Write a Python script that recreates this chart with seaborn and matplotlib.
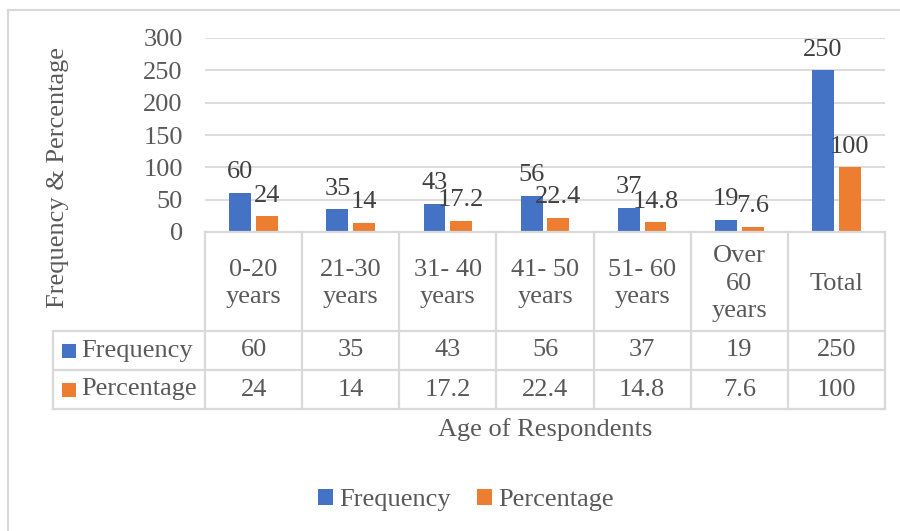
import numpy as np
import pandas as pd
import seaborn as sns
import matplotlib
matplotlib.use("Agg")
import matplotlib.pyplot as plt
from matplotlib.lines import Line2D
from matplotlib.patches import Rectangle, Patch
from matplotlib.transforms import blended_transform_factory

# ---- data ----
categories = ["0-20\nyears", "21-30\nyears", "31- 40\nyears", "41- 50\nyears",
              "51- 60\nyears", "Over\n60\nyears", "Total"]
frequency = [60, 35, 43, 56, 37, 19, 250]
percentage = [24, 14, 17.2, 22.4, 14.8, 7.6, 100]
series_names = ["Frequency", "Percentage"]
y_ticks = [0, 50, 100, 150, 200, 250, 300]

BLUE = "#4472C4"
ORANGE = "#ED7D31"
TEXT = "#595959"
LABEL = "#404040"
GRID = "#D9D9D9"
FS = 19

sns.set_theme(style="white")
plt.rcParams["font.family"] = ["Liberation Serif", "DejaVu Serif"]

W, H = 900, 531
fig = plt.figure(figsize=(W / 100, H / 100), dpi=100)


def fx(px):
    return px / W


def fy(py):
    return 1 - py / H


# plot area (pixels)
AX_L, AX_R, AX_T, AX_B = 205, 885, 38, 232
ax = fig.add_axes([fx(AX_L), fy(AX_B), fx(AX_R) - fx(AX_L), fy(AX_T) - fy(AX_B)])

df = pd.DataFrame({
    "Age": categories * 2,
    "Series": [series_names[0]] * len(categories) + [series_names[1]] * len(categories),
    "Value": frequency + percentage,
})

sns.barplot(data=df, x="Age", y="Value", hue="Series", order=categories,
            hue_order=series_names, palette=[BLUE, ORANGE], width=0.55, gap=0.18,
            saturation=1, errorbar=None, linewidth=0, legend=False, ax=ax)

ax.set_xlim(-0.5, len(categories) - 0.5)
ax.set_ylim(0, 300)
ax.set_yticks(y_ticks)
ax.set_yticklabels([str(t) for t in y_ticks], fontsize=FS, color=TEXT)
ax.tick_params(axis="y", length=0, pad=16)
ax.tick_params(axis="x", length=0, labelbottom=False)
ax.set_xlabel("")
ax.set_ylabel("")
for s in ax.spines.values():
    s.set_visible(False)
ax.yaxis.grid(True, color=GRID, linewidth=1.3)
ax.set_axisbelow(True)

# value labels above bars
for cont, vals in zip(ax.containers, [frequency, percentage]):
    ax.bar_label(cont, labels=[f"{v:g}" for v in vals], padding=7,
                 fontsize=FS, color=LABEL)

# ---- data table below the plot ----
blend = blended_transform_factory(ax.transData, fig.transFigure)
ROW_HDR_B, ROW_F_B, ROW_P_B = 331, 370, 409
LBL_L = 53
tbl_kw = dict(color=GRID, linewidth=1.6, solid_capstyle="projecting")

# vertical cell borders
for b in np.arange(-0.5, len(categories), 1.0):
    fig.add_artist(Line2D([b, b], [fy(AX_B), fy(ROW_P_B)], transform=blend, **tbl_kw))
fig.add_artist(Line2D([fx(LBL_L)] * 2, [fy(ROW_HDR_B), fy(ROW_P_B)],
                      transform=fig.transFigure, **tbl_kw))
# horizontal cell borders
fig.add_artist(Line2D([fx(AX_L), fx(AX_R)], [fy(AX_B)] * 2,
                      transform=fig.transFigure, **tbl_kw))
for r in (ROW_HDR_B, ROW_F_B, ROW_P_B):
    fig.add_artist(Line2D([fx(LBL_L), fx(AX_R)], [fy(r)] * 2,
                          transform=fig.transFigure, **tbl_kw))

# header row: category names
hdr_c = (AX_B + ROW_HDR_B) / 2 + 2
for i, c in enumerate(categories):
    fig.text(i, fy(hdr_c), c, transform=blend, ha="center", va="center",
             fontsize=FS, color=TEXT, linespacing=1.3)

# value rows
rows = [(series_names[0], frequency, BLUE, (ROW_HDR_B + ROW_F_B) / 2),
        (series_names[1], percentage, ORANGE, (ROW_F_B + ROW_P_B) / 2)]
for name, vals, col, yc in rows:
    fig.add_artist(Rectangle((fx(62), fy(yc + 7)), 14 / W, 14 / H,
                             transform=fig.transFigure, color=col, lw=0))
    fig.text(fx(81), fy(yc), name, ha="left", va="center", fontsize=FS, color=TEXT)
    for i, v in enumerate(vals):
        fig.text(i, fy(yc), f"{v:g}", transform=blend, ha="center", va="center",
                 fontsize=FS, color=TEXT)

# axis titles
fig.text(fx(58), fy(178), "Frequency & Percentage", rotation=90,
         ha="center", va="center", fontsize=FS, color=TEXT)
fig.text(fx(545), fy(430), "Age of Respondents", ha="center", va="center",
         fontsize=FS, color=TEXT)

# legend
handles = [Patch(facecolor=BLUE, edgecolor="none"), Patch(facecolor=ORANGE, edgecolor="none")]
fig.legend(handles, series_names, loc="center", bbox_to_anchor=(fx(466), fy(500)),
           ncol=2, frameon=False, fontsize=FS, labelcolor=TEXT,
           handlelength=0.55, handleheight=0.55, handletextpad=0.25,
           columnspacing=1.0, borderaxespad=0, borderpad=0)

# chart area border
fig.add_artist(Line2D([fx(8), 1.0], [fy(10)] * 2, transform=fig.transFigure,
                      color=GRID, linewidth=1.5))
fig.add_artist(Line2D([fx(8)] * 2, [fy(10), 0.0], transform=fig.transFigure,
                      color=GRID, linewidth=1.5))

fig.savefig("out.png", dpi=100, facecolor="white")
